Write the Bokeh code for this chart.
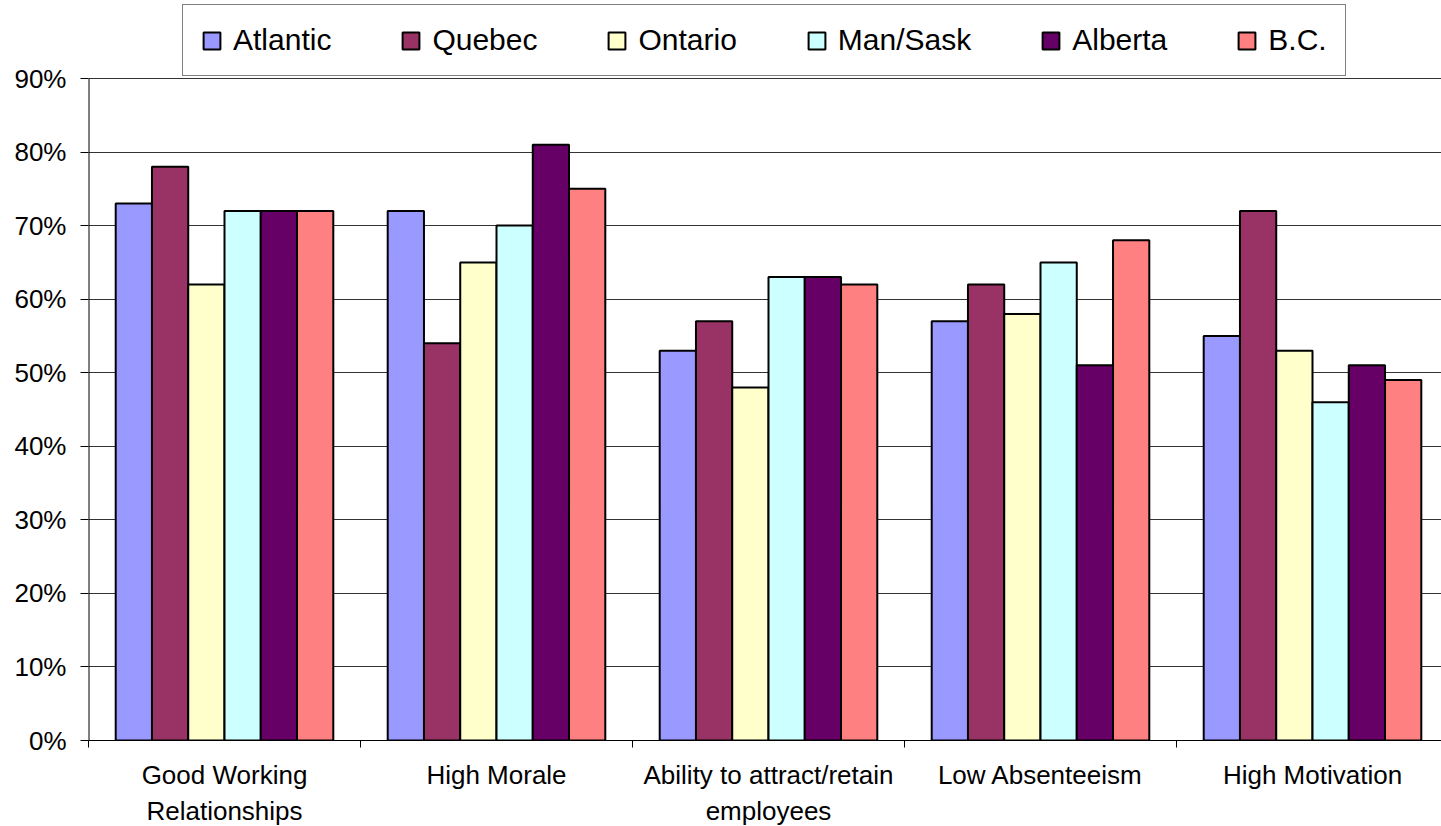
from bokeh.plotting import figure
from bokeh.models import FixedTicker, Legend, LegendItem, Range1d, ColumnDataSource
from bokeh.embed import file_html
from bokeh.resources import INLINE

categories = ["Good Working Relationships", "High Morale", "Ability to attract/retain employees",
              "Low Absenteeism", "High Motivation"]
category_labels = ["Good Working\nRelationships", "High Morale", "Ability to attract/retain\nemployees",
                   "Low Absenteeism", "High Motivation"]
series = ["Atlantic", "Quebec", "Ontario", "Man/Sask", "Alberta", "B.C."]
atlantic = [73, 72, 53, 57, 55]
quebec = [78, 54, 57, 62, 72]
ontario = [62, 65, 48, 58, 53]
man_sask = [72, 70, 63, 65, 46]
alberta = [72, 81, 63, 51, 51]
bc = [72, 75, 62, 68, 49]
colors = ["#9999FF", "#993366", "#FFFFCC", "#CCFFFF", "#660066", "#FF8080"]
y_ticks = [0, 10, 20, 30, 40, 50, 60, 70, 80, 90]
y_tick_labels = ["0%", "10%", "20%", "30%", "40%", "50%", "60%", "70%", "80%", "90%"]

values = [atlantic, quebec, ontario, man_sask, alberta, bc]

FONT = "Liberation Sans"
n_cat = len(categories)
n_ser = len(series)
group_w = 0.8
bar_w = group_w / n_ser

# plotting area geometry: 90% spans 662px; frame extends above to hold the legend
FW = 1353
PX_PER_UNIT = 662 / 90
FH = 740
y_top = FH / PX_PER_UNIT
y_max = y_ticks[-1]

p = figure(frame_width=FW, frame_height=FH, output_backend="svg", toolbar_location=None,
           x_range=Range1d(0, FW / 272), y_range=Range1d(0, y_top),
           min_border_left=88, min_border_right=0, min_border_top=0, min_border_bottom=0,
           background_fill_color="white", border_fill_color="white")
p.outline_line_color = None

items = []
for j, (name, vals, col) in enumerate(zip(series, values, colors)):
    xs = [i + 0.5 + (j - (n_ser - 1) / 2) * bar_w for i in range(n_cat)]
    src = ColumnDataSource(dict(x=xs, top=vals))
    r = p.vbar(x="x", top="top", bottom=0, width=bar_w, source=src,
               fill_color=col, line_color="black", line_width=2)
    items.append(LegendItem(label=name, renderers=[r]))

# y axis line only up to the top tick
p.segment(x0=[0], y0=[0], x1=[0], y1=[y_max], line_color="black", line_width=2)

# grid
p.xgrid.visible = False
p.ygrid.ticker = FixedTicker(ticks=y_ticks)
p.ygrid.grid_line_color = "#333333"
p.ygrid.grid_line_width = 1
p.ygrid.level = "underlay"

# y axis
p.yaxis.ticker = FixedTicker(ticks=y_ticks)
p.yaxis.major_label_overrides = {t: l for t, l in zip(y_ticks, y_tick_labels)}
p.yaxis.major_tick_out = 8
p.yaxis.major_tick_in = 0
p.yaxis.minor_tick_out = 0
p.yaxis.minor_tick_in = 0
p.yaxis.major_label_standoff = 14
p.yaxis.major_label_text_font = FONT
p.yaxis.major_label_text_font_size = "26px"
p.yaxis.major_label_text_color = "black"
p.yaxis.axis_line_color = None
p.yaxis.major_tick_line_color = "black"

# x axis: labels at centers, ticks at boundaries (minor)
centers = [i + 0.5 for i in range(n_cat)]
p.xaxis.ticker = FixedTicker(ticks=centers, minor_ticks=list(range(n_cat + 1)))
p.xaxis.major_label_overrides = {c: l for c, l in zip(centers, category_labels)}
p.xaxis.major_tick_out = 0
p.xaxis.major_tick_in = 0
p.xaxis.minor_tick_out = 7
p.xaxis.minor_tick_in = 0
p.xaxis.minor_tick_line_color = "black"
p.xaxis.major_label_standoff = 12
p.xaxis.major_label_text_font = FONT
p.xaxis.major_label_text_font_size = "26px"
p.xaxis.major_label_text_color = "black"
p.xaxis.axis_line_color = "black"

legend = Legend(items=items, orientation="horizontal", location=(94, 664),
                label_text_font=FONT, label_text_font_size="30px", label_text_color="black",
                glyph_width=21, glyph_height=21, label_standoff=11, spacing=69,
                padding=18, margin=0,
                border_line_color="black", border_line_width=1,
                background_fill_color="white", background_fill_alpha=1)
p.add_layout(legend, "center")

open("out.html", "w").write(file_html(p, INLINE))
